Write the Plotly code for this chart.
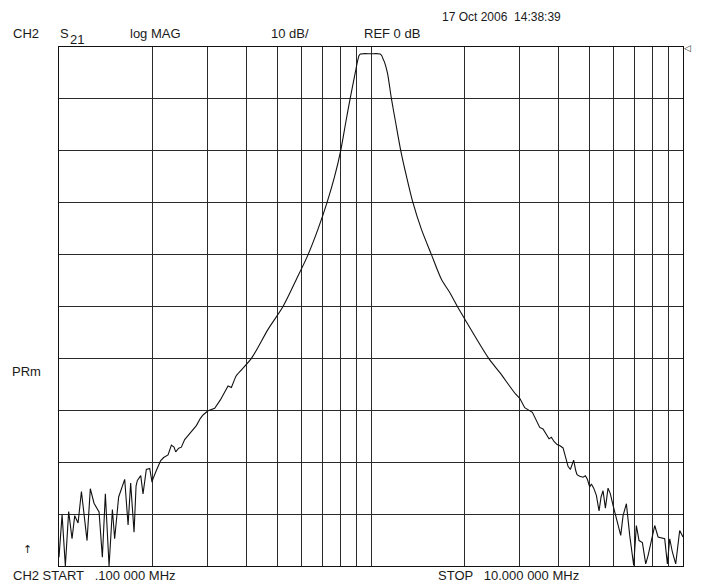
import plotly.graph_objects as go

# ---- data (frequency in MHz, S21 in dB) ----
freq_low = [0.1000, 0.1023, 0.1048, 0.1074, 0.1101, 0.1123, 0.1151, 0.1180, 0.1230, 0.1260,
            0.1295, 0.1344, 0.1377, 0.1408, 0.1447, 0.1483, 0.1508, 0.1553, 0.1624, 0.1665,
            0.1697, 0.1740, 0.1766, 0.1783, 0.1828, 0.1859, 0.1905, 0.1953, 0.1987, 0.2001,
            0.2051, 0.2118, 0.2165, 0.2236, 0.2292, 0.2337, 0.2366, 0.2419, 0.2467, 0.2528,
            0.2591, 0.2689, 0.2756, 0.2839, 0.2895, 0.3004, 0.3155, 0.3290, 0.3482, 0.3569,
            0.3657]
db_low = [-98.3, -90.1, -100.0, -89.5, -94.75, -90.3, -91.7, -85.65, -95.1, -85.1,
          -87.9, -89.6, -98.3, -86.1, -100.0, -89.1, -94.75, -86.7, -83.3, -92.1,
          -84.0, -93.5, -84.6, -83.5, -82.6, -86.1, -81.4, -81.2, -83.85, -83.2,
          -81.6, -79.7, -79.1, -78.6, -76.7, -77.1, -78.0, -77.3, -77.1, -75.65,
          -74.9, -73.6, -72.95, -71.55, -70.9, -70.1, -69.6, -68.0, -65.3, -65.6,
          -64.0]

freq_band = [0.3657, 0.3704, 0.4137, 0.4677, 0.5224, 0.5768, 0.6286, 0.6763, 0.7228, 0.7649,
             0.7994, 0.8297, 0.8570, 0.8900, 0.9065, 0.915, 0.925, 1.00, 1.07,
             1.083, 1.095, 1.106, 1.129, 1.163, 1.200, 1.246, 1.299, 1.363,
             1.450, 1.562, 1.681, 1.788, 1.892, 1.997, 2.384, 2.585, 2.910, 2.997]
db_band = [-64.0, -63.3, -60.0, -54.4, -50.0, -44.75, -40.0, -35.1, -30.0, -24.9,
           -20.0, -14.6, -10.0, -5.0, -2.6, -1.7, -1.35, -1.3, -1.35,
           -1.7, -2.4, -3.0, -5.0, -10.0, -14.6, -20.0, -24.9, -30.0,
           -35.1, -40.0, -44.75, -47.3, -50.0, -52.4, -60.0, -62.7, -66.9, -67.7]

freq_high = [2.997, 3.109, 3.290, 3.388, 3.474, 3.559, 3.648, 3.720, 3.785, 3.860,
             3.947, 4.025, 4.126, 4.198, 4.281, 4.355, 4.420, 4.463, 4.530, 4.575,
             4.666, 4.782, 4.866, 4.938, 5.024, 5.086, 5.174, 5.277, 5.382, 5.462,
             5.543, 5.640, 5.751, 5.851, 5.967, 6.116, 6.315, 6.425, 6.585, 6.749,
             6.950, 7.088, 7.229, 7.410, 7.595, 7.727, 7.958, 8.117, 8.318, 8.630,
             8.736, 8.911, 9.066, 9.245, 9.476, 9.759, 10.0]
db_high = [-67.7, -69.5, -70.4, -72.0, -73.3, -73.6, -74.6, -75.5, -75.2, -76.0,
           -76.6, -76.8, -77.25, -78.7, -80.8, -81.4, -80.5, -79.6, -81.6, -82.4,
           -82.7, -82.9, -82.6, -83.3, -84.8, -84.2, -85.0, -86.4, -89.4, -86.7,
           -85.5, -88.85, -85.0, -86.1, -88.3, -90.6, -94.1, -90.3, -88.0, -94.1,
           -99.9, -92.2, -95.1, -95.5, -99.6, -98.0, -94.4, -92.2, -94.4, -94.6,
           -94.75, -99.6, -94.75, -97.3, -99.6, -93.15, -94.4]

grid_freqs = [0.1, 0.2, 0.3, 0.4, 0.5, 0.6, 0.7, 0.8, 0.9,
              1, 2, 3, 4, 5, 6, 7, 8, 9, 10]
ref_level_db = 0
scale_db = 10
bottom_db = -100

# The page body has an 8px default margin, so the figure is sized to fit.
OFF = 8
W, H = 701 - OFF, 587 - OFF
ML, MR, MT, MB = 59 - OFF, 18, 47 - OFF, 21
PW, PH = W - ML - MR, H - MT - MB


def px(x):
    return (x - OFF - ML) / PW


def py(y):
    return (H - MB - (y - OFF)) / PH


fig = go.Figure()
LINE = dict(color="#111111", width=1.1)
fig.add_trace(go.Scatter(x=freq_low, y=db_low, mode="lines", line=LINE,
                         hoverinfo="skip", showlegend=False))
fig.add_trace(go.Scatter(x=freq_band, y=db_band, mode="lines",
                         line=dict(LINE, shape="spline", smoothing=0.8),
                         hoverinfo="skip", showlegend=False))
fig.add_trace(go.Scatter(x=freq_high, y=db_high, mode="lines", line=LINE,
                         hoverinfo="skip", showlegend=False))

FONT = dict(family="Liberation Sans, Arial, sans-serif", size=13, color="#1a1a1a")

texts = [
    ("CH2", 11, 34, 13),
    ("S", 58, 34, 13),
    ("21", 68, 39.5, 13),
    ("log MAG", 128, 34, 13),
    ("10 dB/", 269, 34, 13),
    ("REF 0 dB", 362, 34, 13),
    ("17 Oct 2006  14:38:39", 440, 17, 12),
    ("PRm", 10, 372, 13),
    ("CH2 START   .100 000 MHz", 11, 575, 13),
    ("STOP   10.000 000 MHz", 436, 575, 13),
]
annotations = []
for t, x, y, s in texts:
    annotations.append(dict(text=t, x=px(x), y=py(y), xref="paper", yref="paper",
                            xanchor="left", yanchor="middle", showarrow=False,
                            font=dict(FONT, size=s)))
annotations.append(dict(text="↑", x=px(27), y=py(549), xref="paper", yref="paper",
                        xanchor="center", yanchor="middle", showarrow=False,
                        font=dict(family="DejaVu Sans", size=11, color="#1a1a1a")))
annotations.append(dict(text="◁", x=px(682), y=py(48), xref="paper", yref="paper",
                        xanchor="left", yanchor="middle", showarrow=False,
                        font=dict(family="DejaVu Sans", size=9, color="#1a1a1a")))

fig.update_layout(
    width=W, height=H,
    margin=dict(l=ML, r=MR, t=MT, b=MB, pad=0),
    paper_bgcolor="white", plot_bgcolor="white",
    annotations=annotations,
    xaxis=dict(type="log", range=[-1, 1], tickvals=grid_freqs, showticklabels=False,
               ticks="", showgrid=True, gridcolor="#2a2a2a", gridwidth=1.2,
               showline=True, linecolor="#111111", linewidth=1.3, mirror=True,
               zeroline=False, fixedrange=True),
    yaxis=dict(range=[bottom_db, ref_level_db], dtick=scale_db, tick0=0,
               showticklabels=False, ticks="", showgrid=True, gridcolor="#2a2a2a",
               gridwidth=1.2, showline=True, linecolor="#111111", linewidth=1.3,
               mirror=True, zeroline=False, fixedrange=True),
)

fig.write_html("out.html", config={"displayModeBar": False})
